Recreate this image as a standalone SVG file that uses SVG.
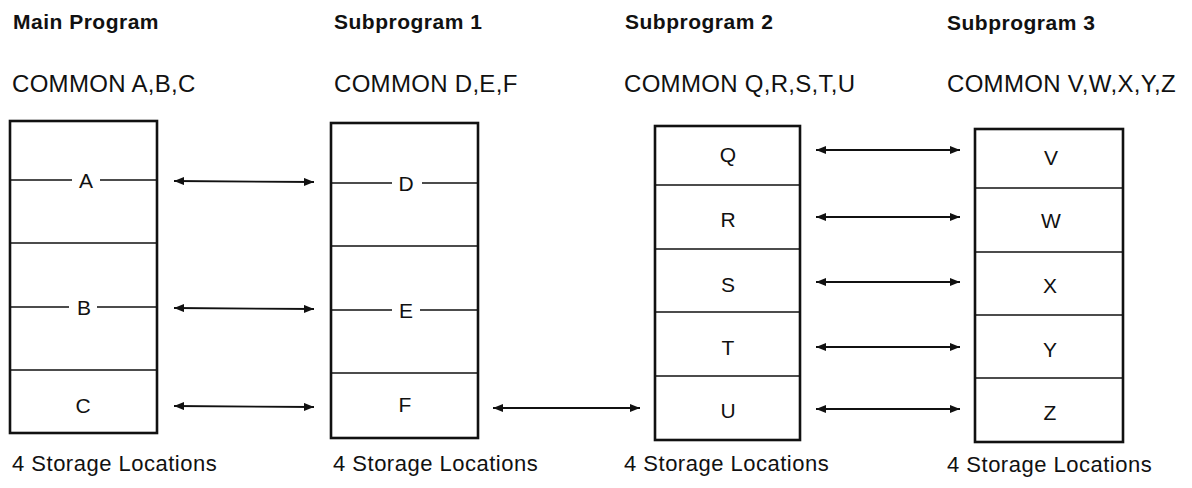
<svg xmlns="http://www.w3.org/2000/svg" width="1192" height="488" viewBox="0 0 1192 488">
<style>
.title{font-family:"Liberation Sans",Arial,sans-serif;font-weight:bold;font-size:21px;letter-spacing:0.5px;fill:#111}
.common{font-family:"Liberation Sans",Arial,sans-serif;font-size:24px;letter-spacing:0.3px;fill:#111}
.foot{font-family:"Liberation Sans",Arial,sans-serif;font-size:22px;letter-spacing:0.5px;fill:#111}
.lbl{font-family:"Liberation Sans",Arial,sans-serif;font-size:21px;fill:#111;text-anchor:middle}
.box{fill:none;stroke:#111;stroke-width:2.6}
.div{stroke:#111;stroke-width:1.5;fill:none}
.arr{stroke:#111;stroke-width:1.8;fill:none;marker-start:url(#ah);marker-end:url(#ah)}
</style>
<defs>
<marker id="ah" viewBox="0 0 10 8" refX="10" refY="4" markerWidth="10" markerHeight="8" markerUnits="userSpaceOnUse" orient="auto-start-reverse">
<path d="M0,0 L10,4 L0,8 Z" fill="#111"/>
</marker>
</defs>
<rect width="1192" height="488" fill="#fff"/>

<g id="main-program">
<text class="title" x="13" y="29">Main Program</text>
<text class="common" x="12" y="92">COMMON A,B,C</text>
<rect class="box" x="10" y="121" width="147" height="312"/>
<line class="div" x1="10" y1="180" x2="72" y2="180"/><line class="div" x1="100" y1="180" x2="157" y2="180"/>
<line class="div" x1="10" y1="243" x2="157" y2="243"/>
<line class="div" x1="10" y1="307" x2="69" y2="307"/><line class="div" x1="97" y1="307" x2="157" y2="307"/>
<line class="div" x1="10" y1="370" x2="157" y2="370"/>
<text class="lbl" x="86" y="188">A</text>
<text class="lbl" x="84" y="315">B</text>
<text class="lbl" x="83" y="413">C</text>
<text class="foot" x="12" y="471">4 Storage Locations</text>
</g>

<g id="subprogram-1">
<text class="title" x="334" y="29">Subprogram 1</text>
<text class="common" x="334" y="92">COMMON D,E,F</text>
<rect class="box" x="331" y="123" width="147" height="315"/>
<line class="div" x1="331" y1="183" x2="392" y2="183"/><line class="div" x1="422" y1="183" x2="478" y2="183"/>
<line class="div" x1="331" y1="246" x2="478" y2="246"/>
<line class="div" x1="331" y1="310" x2="392" y2="310"/><line class="div" x1="420" y1="310" x2="478" y2="310"/>
<line class="div" x1="331" y1="373" x2="478" y2="373"/>
<text class="lbl" x="406" y="191">D</text>
<text class="lbl" x="406" y="318">E</text>
<text class="lbl" x="405" y="412">F</text>
<text class="foot" x="333" y="471">4 Storage Locations</text>
</g>

<g id="subprogram-2">
<text class="title" x="625" y="29">Subprogram 2</text>
<text class="common" x="624" y="92">COMMON Q,R,S,T,U</text>
<rect class="box" x="655" y="126" width="145" height="314"/>
<line class="div" x1="655" y1="185" x2="800" y2="185"/>
<line class="div" x1="655" y1="249" x2="800" y2="249"/>
<line class="div" x1="655" y1="312" x2="800" y2="312"/>
<line class="div" x1="655" y1="376" x2="800" y2="376"/>
<text class="lbl" x="728" y="162">Q</text>
<text class="lbl" x="728" y="227">R</text>
<text class="lbl" x="728" y="292">S</text>
<text class="lbl" x="728" y="355">T</text>
<text class="lbl" x="728" y="418">U</text>
<text class="foot" x="624" y="471">4 Storage Locations</text>
</g>

<g id="subprogram-3">
<text class="title" x="947" y="30">Subprogram 3</text>
<text class="common" x="947" y="92">COMMON V,W,X,Y,Z</text>
<rect class="box" x="975" y="129" width="148" height="313"/>
<line class="div" x1="975" y1="188" x2="1123" y2="188"/>
<line class="div" x1="975" y1="252" x2="1123" y2="252"/>
<line class="div" x1="975" y1="315" x2="1123" y2="315"/>
<line class="div" x1="975" y1="378" x2="1123" y2="378"/>
<text class="lbl" x="1051" y="165">V</text>
<text class="lbl" x="1051" y="228">W</text>
<text class="lbl" x="1050" y="293">X</text>
<text class="lbl" x="1050" y="357">Y</text>
<text class="lbl" x="1050" y="420">Z</text>
<text class="foot" x="947" y="472">4 Storage Locations</text>
</g>

<g id="connectors">
<line class="arr" x1="174" y1="181" x2="314" y2="182"/>
<line class="arr" x1="174" y1="308" x2="314" y2="309"/>
<line class="arr" x1="174" y1="406" x2="314" y2="407"/>
<line class="arr" x1="493" y1="408" x2="640" y2="408"/>
<line class="arr" x1="816" y1="150" x2="960" y2="150"/>
<line class="arr" x1="816" y1="217" x2="960" y2="217"/>
<line class="arr" x1="816" y1="282" x2="960" y2="282"/>
<line class="arr" x1="816" y1="347" x2="960" y2="347"/>
<line class="arr" x1="816" y1="409" x2="960" y2="409"/>
</g>
</svg>
